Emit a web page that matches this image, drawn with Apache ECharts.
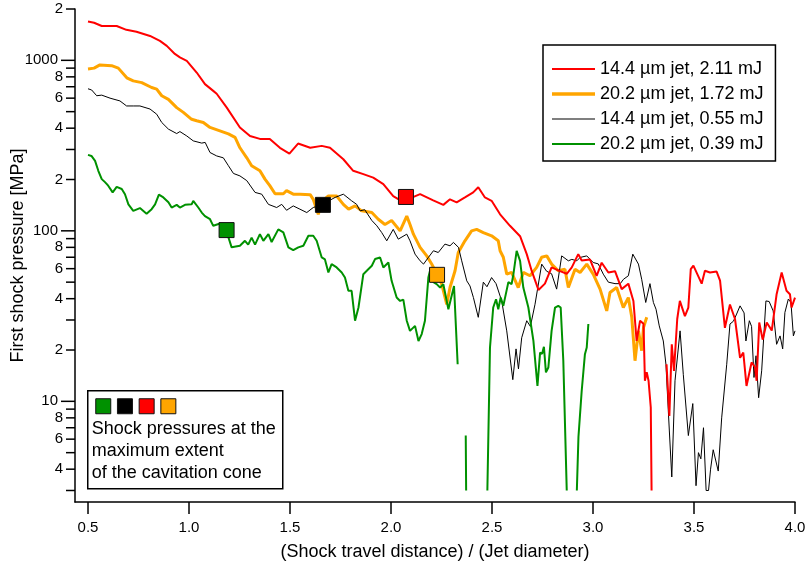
<!DOCTYPE html>
<html>
<head>
<meta charset="utf-8">
<script src="https://cdn.jsdelivr.net/npm/echarts@6/dist/echarts.min.js"></script>
<style>
  html, body { margin: 0; padding: 0; background: #fff; }
  #chart { width: 807px; height: 566px; }
</style>
</head>
<body>
<div id="chart"></div>
<script>
var FONT = '"Liberation Sans", Arial, sans-serif';
var X_MIN = 0.4356, X_MAX = 4.0;
var Y_MIN = 2.568, Y_MAX = 2000;

var seriesNames = ['14.4 µm jet, 2.11 mJ', '20.2 µm jet, 1.72 mJ', '14.4 µm jet, 0.55 mJ', '20.2 µm jet, 0.39 mJ'];

// x tick values and y tick values (major / labelled minor / unlabelled minor)
var xTicks = [0.5, 1.0, 1.5, 2.0, 2.5, 3.0, 3.5, 4.0];
var yMajor = [10, 100, 1000];
var yMinorLabelled = [4, 6, 8, 20, 40, 60, 80, 200, 400, 600, 800, 2000];
var yMinor = [3, 5, 7, 9, 30, 50, 70, 90, 300, 500, 700, 900];

var red = [[0.5,1690],[0.53,1660],[0.568,1590],[0.642,1590],[0.69,1510],[0.74,1470],[0.807,1390],[0.856,1300],[0.89,1215],[0.93,1090],[0.955,1040],[0.989,993],[1.038,848],[1.079,725],[1.12,662],[1.137,637],[1.187,528],[1.252,404],[1.302,360],[1.351,346],[1.40,346],[1.45,307],[1.497,284],[1.54,325],[1.60,307],[1.657,315],[1.698,307],[1.764,263],[1.813,225],[1.863,215],[1.912,205],[1.962,188],[2.011,160],[2.05,150],[2.10,156],[2.144,164],[2.209,151],[2.259,142],[2.292,153],[2.325,147],[2.366,157],[2.407,168],[2.432,180],[2.465,157],[2.498,150],[2.54,125],[2.589,107],[2.639,93],[2.672,73],[2.697,58],[2.73,45],[2.762,49],[2.795,61],[2.837,58],[2.87,56],[2.895,61],[2.927,73],[2.944,67],[2.985,68],[3.018,54.5],[3.043,65],[3.076,57],[3.109,58],[3.142,45.5],[3.175,49],[3.2,38.8],[3.216,22.6],[3.233,29.7],[3.25,28.5],[3.257,13.2],[3.266,14.8],[3.275,13.2],[3.286,9.2],[3.29,3.0],[3.33,'-'],[3.364,16.5],[3.378,8.2],[3.39,21.6],[3.401,15.1],[3.417,30.4],[3.43,38.8],[3.455,31.6],[3.472,35.5],[3.484,59.6],[3.497,62.5],[3.538,49],[3.554,58.3],[3.579,57],[3.612,57.7],[3.629,51],[3.653,27],[3.678,37],[3.703,30.4],[3.728,18],[3.744,19.3],[3.76,12.3],[3.785,16.9],[3.802,15.9],[3.81,13.2],[3.823,29],[3.84,23],[3.86,29],[3.885,26],[3.909,42.5],[3.934,57],[3.958,44.5],[3.975,42.5],[3.983,35.5],[4.0,40.6]];

var orange = [[0.5,890],[0.53,900],[0.559,940],[0.617,930],[0.65,900],[0.692,790],[0.724,758],[0.766,740],[0.815,693],[0.84,678],[0.865,620],[0.898,590],[0.939,528],[0.972,495],[1.013,451],[1.038,442],[1.071,432],[1.104,404],[1.153,386],[1.195,370],[1.228,353],[1.252,307],[1.286,268],[1.31,241],[1.351,225],[1.376,201],[1.40,184],[1.426,165],[1.467,165],[1.483,172],[1.516,164],[1.55,164],[1.60,163],[1.615,153],[1.64,125],[1.66,150],[1.69,160],[1.731,160],[1.764,143],[1.79,134],[1.822,140],[1.855,131],[1.905,128],[1.937,117],[1.97,109],[2.003,115],[2.045,100],[2.078,122],[2.094,109],[2.111,95.6],[2.144,80],[2.177,71.3],[2.202,63.7],[2.23,55],[2.251,48.7],[2.276,37],[2.292,46.5],[2.317,58.3],[2.333,74.6],[2.366,87.4],[2.399,100],[2.424,102],[2.457,97.7],[2.498,93.5],[2.507,95.6],[2.531,87.4],[2.54,76.4],[2.556,70],[2.573,55.7],[2.597,57],[2.63,46.5],[2.655,57],[2.688,54.5],[2.721,61],[2.746,70],[2.771,71.3],[2.795,63.8],[2.828,58.3],[2.861,59.6],[2.878,46.5],[2.911,59.6],[2.936,57],[2.969,63.8],[3.001,55.7],[3.035,45.5],[3.068,33.9],[3.084,43.5],[3.117,46.5],[3.15,35.5],[3.175,40.6],[3.192,31.1],[3.208,17.3],[3.225,25.9],[3.241,19.8],[3.25,27.1],[3.266,31.1]];

var black = [[0.5,681],[0.518,670],[0.543,620],[0.568,625],[0.609,600],[0.658,578],[0.691,540],[0.724,540],[0.757,540],[0.807,518],[0.84,483],[0.865,432],[0.898,395],[0.939,372],[0.955,382],[0.989,360],[1.021,337],[1.063,327],[1.08,330],[1.104,288],[1.137,275],[1.17,268],[1.195,241],[1.22,217],[1.252,210],[1.286,197],[1.327,168],[1.36,164],[1.393,143],[1.434,137],[1.459,143],[1.483,132],[1.516,140],[1.549,134],[1.583,128],[1.615,137],[1.64,140],[1.67,145],[1.723,157],[1.764,164],[1.805,150],[1.83,143],[1.847,131],[1.87,133],[1.905,115],[1.93,107],[1.954,97.7],[1.979,87.4],[2.011,102],[2.036,89.4],[2.078,95.6],[2.094,87.4],[2.119,73],[2.144,66.7],[2.161,63.8],[2.185,69.8],[2.21,76.4],[2.234,74.6],[2.267,83.6],[2.292,81.7],[2.309,85.5],[2.334,80],[2.35,66.7],[2.375,50.9],[2.391,47.5],[2.408,40.6],[2.432,31.1],[2.457,50],[2.475,47],[2.498,53.2],[2.52,49],[2.548,38.8],[2.573,25.9],[2.603,13.4],[2.619,20.3],[2.631,15.5],[2.647,23.6],[2.672,29.7],[2.69,27.5],[2.713,37.1],[2.746,63.8],[2.77,58],[2.795,56],[2.82,45.5],[2.845,71.3],[2.878,66.7],[2.895,68],[2.92,66.7],[2.936,69.8],[2.969,71.3],[3.001,65.2],[3.026,64],[3.051,55.7],[3.076,50],[3.109,49],[3.135,49],[3.151,52],[3.175,54.5],[3.197,73],[3.225,63.8],[3.241,52],[3.261,38],[3.282,49],[3.299,38],[3.312,34.7],[3.328,27.7],[3.348,22.6],[3.361,16.5],[3.378,6.7],[3.39,3.6],[3.406,13.2],[3.431,25.9],[3.447,14.4],[3.472,6.3],[3.494,9.7],[3.51,3.2],[3.522,5.0],[3.534,4.6],[3.547,7.0],[3.56,3.0],[3.572,3.0],[3.582,4.0],[3.595,5.2],[3.62,3.9],[3.637,8.0],[3.662,16.5],[3.678,28.4],[3.695,29.5],[3.711,32.5],[3.728,36.3],[3.748,33],[3.757,22.6],[3.774,29.7],[3.785,27.5],[3.797,13.8],[3.807,18.5],[3.82,10.5],[3.835,15.1],[3.856,38.8],[3.872,38.5],[3.892,33.9],[3.909,21.6],[3.926,24.2],[3.939,20.3],[3.95,33.2],[3.967,39.8],[3.98,38],[3.992,24.2],[4.0,25.9]];

var green = [[0.5,279],[0.517,275],[0.535,257],[0.551,225],[0.568,201],[0.584,193],[0.6,184],[0.622,168],[0.642,181],[0.667,176],[0.683,164],[0.7,143],[0.724,131],[0.757,136],[0.79,126],[0.815,134],[0.832,143],[0.851,163],[0.873,157],[0.898,147],[0.914,137],[0.939,142],[0.955,137],[0.98,142],[1.013,143],[1.021,150],[1.046,137],[1.063,128],[1.079,122],[1.104,117],[1.12,107],[1.15,110],[1.185,100],[1.211,80],[1.22,80],[1.252,81.7],[1.277,87.4],[1.293,83],[1.31,91.3],[1.327,83],[1.351,95.6],[1.368,87.4],[1.393,95.6],[1.409,86],[1.442,102],[1.467,98],[1.492,80],[1.516,77],[1.541,80],[1.566,81.7],[1.591,93.5],[1.615,93.5],[1.632,87.4],[1.657,69.8],[1.673,68],[1.69,57],[1.706,63.8],[1.731,61],[1.756,57],[1.772,53.2],[1.789,44.5],[1.805,44.5],[1.822,29.7],[1.839,35.5],[1.863,55.7],[1.88,58.3],[1.905,62.4],[1.921,68.3],[1.946,69.8],[1.962,61],[1.987,65.2],[2.003,50.9],[2.028,40.6],[2.045,38.8],[2.061,39.5],[2.078,29.7],[2.094,25.9],[2.119,27.7],[2.136,22.6],[2.152,24.8],[2.168,29.7],[2.185,53.2],[2.193,58.3],[2.21,50],[2.226,48.7],[2.243,46.5],[2.259,48.7],[2.284,34.7],[2.312,47.5],[2.33,16.5],[2.35,'-'],[2.37,6.3],[2.372,3.0],[2.42,'-'],[2.477,3.0],[2.49,20.7],[2.506,35.5],[2.52,39.7],[2.531,34.7],[2.543,40.6],[2.556,36.3],[2.581,50],[2.597,48.7],[2.606,55.7],[2.622,76.4],[2.639,66.7],[2.655,46.5],[2.68,35.5],[2.705,22.6],[2.725,12.3],[2.738,19.3],[2.748,19],[2.757,20.9],[2.767,14.8],[2.779,15.8],[2.795,25.9],[2.812,35.5],[2.828,36.3],[2.84,35.5],[2.853,17.3],[2.87,3.0],[2.9,'-'],[2.92,3.0],[2.928,6.2],[2.944,11.5],[2.96,18.9],[2.969,20.7],[2.977,28.4]];

// shock pressure at maximum extent of the cavitation cone
var coneMarks = [
  { value: [1.186, 101], color: '#009100' },
  { value: [1.663, 142], color: '#000000' },
  { value: [2.074, 158], color: '#ff0000' },
  { value: [2.228, 55.2], color: '#ffa500' }
];
var noteColors = ['#009100', '#000000', '#ff0000', '#ffa500'];
var noteLines = ['Shock pressures at the', 'maximum extent', 'of the cavitation cone'];

function leadDigit(v) {
  var p = Math.pow(10, Math.floor(Math.log10(v) + 1e-9));
  return String(Math.round(v / p));
}

// flat bar inside a 43x14 box, so the legend shows a plain line of the given width
function lineIcon(w) {
  var a = 7 - w / 2, b = 7 + w / 2;
  return 'path://M0,0M43,14M0,' + a + 'L43,' + a + 'L43,' + b + 'L0,' + b + 'Z';
}

var yTickData = [];
yMajor.forEach(function (v) { yTickData.push([X_MIN, v, 0]); });
yMinorLabelled.forEach(function (v) { yTickData.push([X_MIN, v, 1]); });
yMinor.forEach(function (v) { yTickData.push([X_MIN, v, 2]); });

var xTickData = xTicks.map(function (v) { return [v, Y_MIN]; });

function renderYTick(params, api) {
  var v = api.value(1);
  var kind = api.value(2);
  var p = api.coord([X_MIN, v]);
  var len = kind === 0 ? 14 : 9;
  var kids = [{
    type: 'line',
    shape: { x1: p[0] - len, y1: p[1], x2: p[0], y2: p[1] },
    style: { stroke: '#000', lineWidth: 1.5 }
  }];
  if (kind < 2) {
    kids.push({
      type: 'text',
      x: p[0] - len - 3,
      y: p[1],
      style: {
        text: kind === 0 ? String(v) : leadDigit(v),
        align: 'right', verticalAlign: 'middle',
        fontSize: 15, fontFamily: FONT, fill: '#000'
      }
    });
  }
  return { type: 'group', children: kids };
}

function renderXTick(params, api) {
  var v = api.value(0);
  var p = api.coord([v, Y_MIN]);
  return {
    type: 'group',
    children: [{
      type: 'line',
      shape: { x1: p[0], y1: p[1], x2: p[0], y2: p[1] + 12 },
      style: { stroke: '#000', lineWidth: 1.5 }
    }, {
      type: 'text',
      x: p[0], y: p[1] + 26,
      style: {
        text: v.toFixed(1), align: 'center', verticalAlign: 'middle',
        fontSize: 15, fontFamily: FONT, fill: '#000'
      }
    }]
  };
}

function lineSeries(name, data, color, width) {
  return {
    name: name,
    type: 'line',
    data: data,
    symbol: 'none',
    connectNulls: false,
    lineStyle: { color: color, width: width },
    itemStyle: { color: color },
    emphasis: { disabled: true }
  };
}

var chart = echarts.init(document.getElementById('chart'), null, { renderer: 'canvas' });
chart.setOption({
  animation: false,
  backgroundColor: '#fff',
  textStyle: { fontFamily: FONT },
  grid: { left: 75, right: 12, top: 9, bottom: 64, containLabel: false, outerBoundsMode: 'none' },
  xAxis: {
    type: 'value',
    min: X_MIN, max: X_MAX,
    name: '(Shock travel distance) / (Jet diameter)',
    nameLocation: 'middle',
    nameGap: 41,
    nameTextStyle: { fontSize: 18, color: '#000', fontFamily: FONT },
    axisLine: { show: true, onZero: false, lineStyle: { color: '#000', width: 1.5 } },
    axisTick: { show: false },
    axisLabel: { show: false },
    splitLine: { show: false }
  },
  yAxis: {
    type: 'log',
    logBase: 10,
    min: Y_MIN, max: Y_MAX,
    name: 'First shock pressure [MPa]',
    nameLocation: 'middle',
    nameGap: 48,
    nameTextStyle: { fontSize: 18, color: '#000', fontFamily: FONT },
    axisLine: { show: true, lineStyle: { color: '#000', width: 1.5 } },
    axisTick: { show: false },
    axisLabel: { show: false },
    splitLine: { show: false },
    minorTick: { show: false }
  },
  legend: {
    data: [
      { name: seriesNames[0], icon: lineIcon(2) },
      { name: seriesNames[1], icon: lineIcon(3.5) },
      { name: seriesNames[2], icon: lineIcon(1) },
      { name: seriesNames[3], icon: lineIcon(2) }
    ],
    left: 543, top: 45,
    orient: 'vertical',
    itemWidth: 43, itemHeight: 14, itemGap: 7,
    padding: [15, 12, 8, 9],
    borderColor: '#000', borderWidth: 1.5,
    backgroundColor: '#fff',
    selectedMode: false,
    textStyle: { fontSize: 18, color: '#000', fontFamily: FONT }
  },
  series: [
    lineSeries(seriesNames[1], orange, '#ffa500', 3),
    lineSeries(seriesNames[2], black, '#000000', 1),
    lineSeries(seriesNames[3], green, '#009100', 2),
    lineSeries(seriesNames[0], red, '#ff0000', 2),
    {
      type: 'scatter',
      symbol: 'rect',
      symbolSize: 15,
      silent: true,
      z: 5,
      data: coneMarks.map(function (m) {
        return { value: m.value, itemStyle: { color: m.color, opacity: 1, borderColor: '#111', borderWidth: 1 } };
      })
    },
    {
      type: 'custom',
      silent: true,
      clip: false,
      renderItem: renderYTick,
      data: yTickData,
      z: 6
    },
    {
      type: 'custom',
      silent: true,
      clip: false,
      renderItem: renderXTick,
      data: xTickData,
      z: 6
    }
  ],
  graphic: [{
    type: 'group',
    left: 87, top: 390,
    children: [
      { type: 'rect', shape: { x: 0, y: 0, width: 195, height: 98 }, style: { fill: '#fff', stroke: '#000', lineWidth: 1.5 } }
    ].concat(noteColors.map(function (c, i) {
      return { type: 'rect', shape: { x: 8 + i * 21.7, y: 8, width: 15, height: 15 }, style: { fill: c, stroke: '#111', lineWidth: 1 } };
    })).concat(noteLines.map(function (t, i) {
      return { type: 'text', x: 4, y: 38 + i * 22, style: { text: t, fontSize: 18, fontFamily: FONT, fill: '#000', verticalAlign: 'middle' } };
    }))
  }]
});
window.addEventListener('resize', function () { chart.resize(); });
</script>
</body>
</html>
